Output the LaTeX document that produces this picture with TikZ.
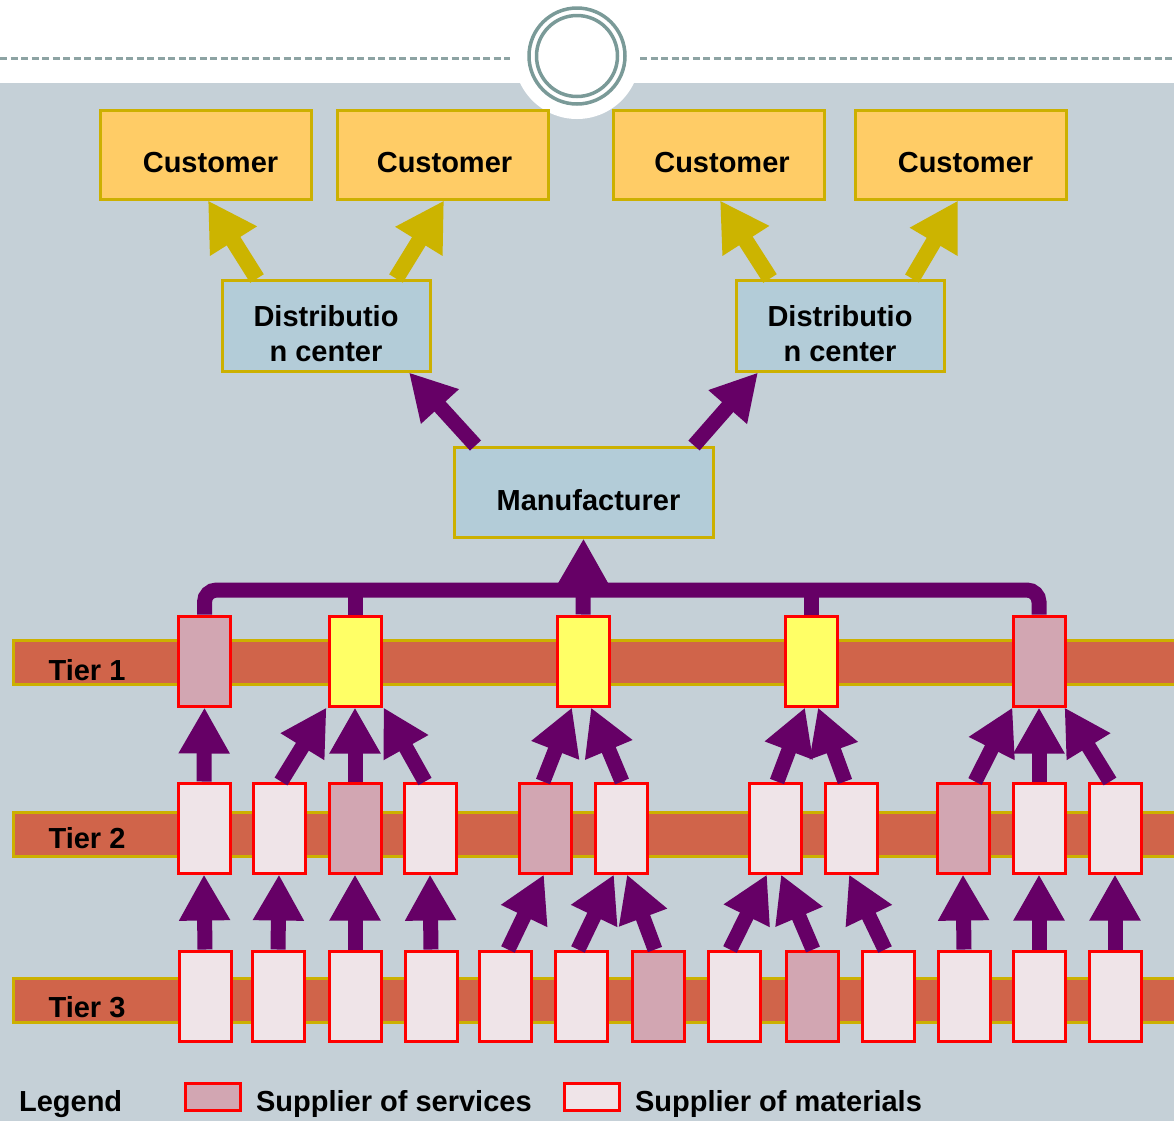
\documentclass[tikz,border=0pt]{standalone}
\usepackage{fontspec}
\setmainfont{Liberation Sans}
\definecolor{scBg}{HTML}{C5D0D7}
\definecolor{scRing}{HTML}{7A9A98}
\definecolor{scDash}{HTML}{8DA3A3}
\definecolor{scGold}{HTML}{CCB000}
\definecolor{scCust}{HTML}{FFCC66}
\definecolor{scHub}{HTML}{B3CCD8}
\definecolor{scArrow}{HTML}{CCB400}
\definecolor{scPurple}{HTML}{660066}
\definecolor{scBand}{HTML}{D0644A}
\definecolor{scRed}{HTML}{FF0000}
\definecolor{scSrv}{HTML}{D2A6B2}
\definecolor{scMat}{HTML}{EFE4E8}
\definecolor{scCore}{HTML}{FFFF66}
\usetikzlibrary{calc,positioning,arrows.meta}

\tikzset{
  lbl/.style={font=\fontsize{14.5}{17.5}\selectfont\bfseries},
  custbox/.style={lbl, draw=scGold, fill=scCust, line width=1.5pt,
    minimum width=105.5pt, minimum height=44.5pt, text height=18pt, text depth=0pt},
  hubbox/.style={lbl, draw=scGold, fill=scHub, line width=1.5pt, align=center},
  sup/.style={draw=scRed, line width=1.5pt, minimum width=26pt, minimum height=45pt, inner sep=0pt},
  srv/.style={sup, fill=scSrv},
  mat/.style={sup, fill=scMat},
  core/.style={sup, fill=scCore},
  band/.style={draw=scGold, fill=scBand, line width=1.5pt, minimum width=590pt,
    minimum height=22pt, inner sep=0pt},
  pline/.style={draw=scPurple, line width=7.5pt},
  parrow/.style={pline, -{Triangle[length=23pt,width=24pt]}},
  garrow/.style={draw=scArrow, line width=8pt, -{Triangle[length=24pt,width=26pt]}},
}

\begin{document}
\begin{tikzpicture}[x=0.5pt,y=-0.5pt]
  \useasboundingbox (0,0) rectangle (1174,1121);

  % page
  \fill[white] (0,0) rectangle (1174,83);
  \fill[scBg] (0,83) rectangle (1174,1121);
  \draw[scDash, line width=1.5pt, dash pattern=on 3.5pt off 1.75pt] (0,58) -- (510,58);
  \draw[scDash, line width=1.5pt, dash pattern=on 3.5pt off 1.75pt] (640,58) -- (1174,58);
  \fill[white] (577,56) circle[radius=31.5pt];
  \draw[scRing, line width=1.75pt] (577,56) circle[radius=24pt];
  \draw[scRing, line width=1.75pt] (577,56) circle[radius=20.25pt];

  % Tiers
  \node[band] (tier1) at (603,662.5) {};
  \node[band] (tier2) at (603,834) {};
  \node[band] (tier3) at (603,1000) {};
  \node[lbl] (tl1) at (87,670) {Tier 1};
  \node[lbl] (tl2) at (87,838) {Tier 2};
  \node[lbl] (tl3) at (87,1007) {Tier 3};

  % Customers
  \node[custbox] (c1) at (205.5,154.5) {\hspace{5pt}Customer};
  \node[custbox] (c2) at (442.5,154.5) {\hspace{2pt}Customer};
  \node[custbox] (c3) at (719,154.5) {\hspace{3pt}Customer};
  \node[custbox] (c4) at (960.5,154.5) {\hspace{5pt}Customer};

  % Distribution centers and manufacturer
  \node[hubbox, minimum width=104pt, minimum height=45.5pt, inner sep=0pt,
    text height=40pt, text depth=4pt] (d1) at (326,325.5) {Distributio\\n center};
  \node[hubbox, minimum width=104pt, minimum height=45.5pt, inner sep=0pt,
    text height=40pt, text depth=4pt] (d2) at (840,325.5) {Distributio\\n center};
  \node[hubbox, minimum width=129.5pt, minimum height=45pt,
    text height=18pt, text depth=0pt] (mfr) at (583.5,492) {\hspace{5pt}Manufacturer};

  \draw[garrow] ($(d1.north)+(-69,0)$) -- ($(c1.south)+(2.5,0)$);
  \draw[garrow] ($(d1.north)+(70,0)$) -- ($(c2.south)+(1.5,0)$);
  \draw[garrow] ($(d2.north)+(-70,0)$) -- ($(c3.south)+(1,0)$);
  \draw[garrow] ($(d2.north)+(72,0)$) -- ($(c4.south)+(-2.5,0)$);
  \draw[parrow] ($(mfr.north)+(-108,0)$) -- ($(d1.south)+(83,0)$);
  \draw[parrow] ($(mfr.north)+(110.5,0)$) -- ($(d2.south)+(-82,0)$);

  % Suppliers
  \foreach \n/\x/\s in {a/204.5/srv, b/355/core, c/583/core, d/811/core, e/1039/srv}
    \node[\s] (t1\n) at (\x,661) {};
  \foreach \n/\x/\s in {a/204/mat, b/279/mat, c/355/srv, d/430/mat, e/545/srv, f/621/mat,
      g/775/mat, h/851/mat, i/963/srv, j/1039/mat, k/1115/mat}
    \node[\s] (t2\n) at (\x,828) {};
  \foreach \n/\x/\s in {a/205/mat, b/278/mat, c/355/mat, d/431/mat, e/505/mat, f/581/mat,
      g/658/srv, h/734/mat, i/812/srv, j/888/mat, k/964/mat, l/1039/mat, m/1115/mat}
    \node[\s] (t3\n) at (\x,996) {};

  % Bus to manufacturer
  \coordinate (bus) at (583,590);
  \draw[pline, rounded corners=6pt] (t1a.north) -- (t1a.north |- bus) -| (t1e.north);
  \draw[pline] (t1b.north) -- (t1b.north |- bus);
  \draw[pline] (t1d.north) -- (t1d.north |- bus);
  \draw[parrow] (t1c.north) -- (mfr.south);

  % Tier 2 to tier 1
  \draw[parrow] (t2a.north) -- (t1a.south);
  \draw[parrow] ($(t2b.north)+(2,0)$) -- ($(t1b.south west)+(-1,0)$);
  \draw[parrow] (t2c.north) -- (t1b.south);
  \draw[parrow] ($(t2d.north)+(-5,0)$) -- ($(t1b.south east)+(1,0)$);
  \draw[parrow] ($(t2e.north)+(-2,0)$) -- ($(t1c.south)+(-11,0)$);
  \draw[parrow] ($(t2f.north)+(1,0)$) -- ($(t1c.south)+(8,0)$);
  \draw[parrow] ($(t2g.north)+(2,0)$) -- ($(t1d.south)+(-6,0)$);
  \draw[parrow] ($(t2h.north)+(-6,0)$) -- ($(t1d.south)+(7,0)$);
  \draw[parrow] ($(t2i.north)+(12,0)$) -- ($(t1e.south west)+(1,0)$);
  \draw[parrow] (t2j.north) -- (t1e.south);
  \draw[parrow] ($(t2k.north)+(-5,0)$) -- ($(t1e.south east)+(-2,0)$);

  % Tier 3 to tier 2
  \draw[parrow] (t3a.north) -- (t2a.south);
  \draw[parrow] (t3b.north) -- (t2b.south);
  \draw[parrow] (t3c.north) -- (t2c.south);
  \draw[parrow] (t3d.north) -- (t2d.south);
  \draw[parrow] ($(t3e.north)+(3,0)$) -- ($(t2e.south)+(-1,0)$);
  \draw[parrow] ($(t3f.north)+(-3,0)$) -- ($(t2f.south)+(-7,0)$);
  \draw[parrow] ($(t3g.north)+(-3,0)$) -- ($(t2f.south)+(6,0)$);
  \draw[parrow] ($(t3h.north)+(-4,0)$) -- ($(t2g.south)+(-8,0)$);
  \draw[parrow] ($(t3i.north)+(1,0)$) -- ($(t2g.south)+(6,0)$);
  \draw[parrow] ($(t3j.north)+(-3,0)$) -- ($(t2h.south)+(-2,0)$);
  \draw[parrow] (t3k.north) -- (t2i.south);
  \draw[parrow] (t3l.north) -- (t2j.south);
  \draw[parrow] (t3m.north) -- (t2k.south);

  % Legend
  \node[lbl, anchor=west] (legend) at (12,1104) {Legend};
  \node[srv, minimum width=27.5pt, minimum height=13.5pt] (ksrv) at (212.5,1096.5) {};
  \node[lbl, anchor=west] (tsrv) at (249,1104) {Supplier of services};
  \node[mat, minimum width=27.5pt, minimum height=13.5pt] (kmat) at (592,1096.5) {};
  \node[lbl, anchor=west] (tmat) at (628,1104) {Supplier of materials};
\end{tikzpicture}
\end{document}
